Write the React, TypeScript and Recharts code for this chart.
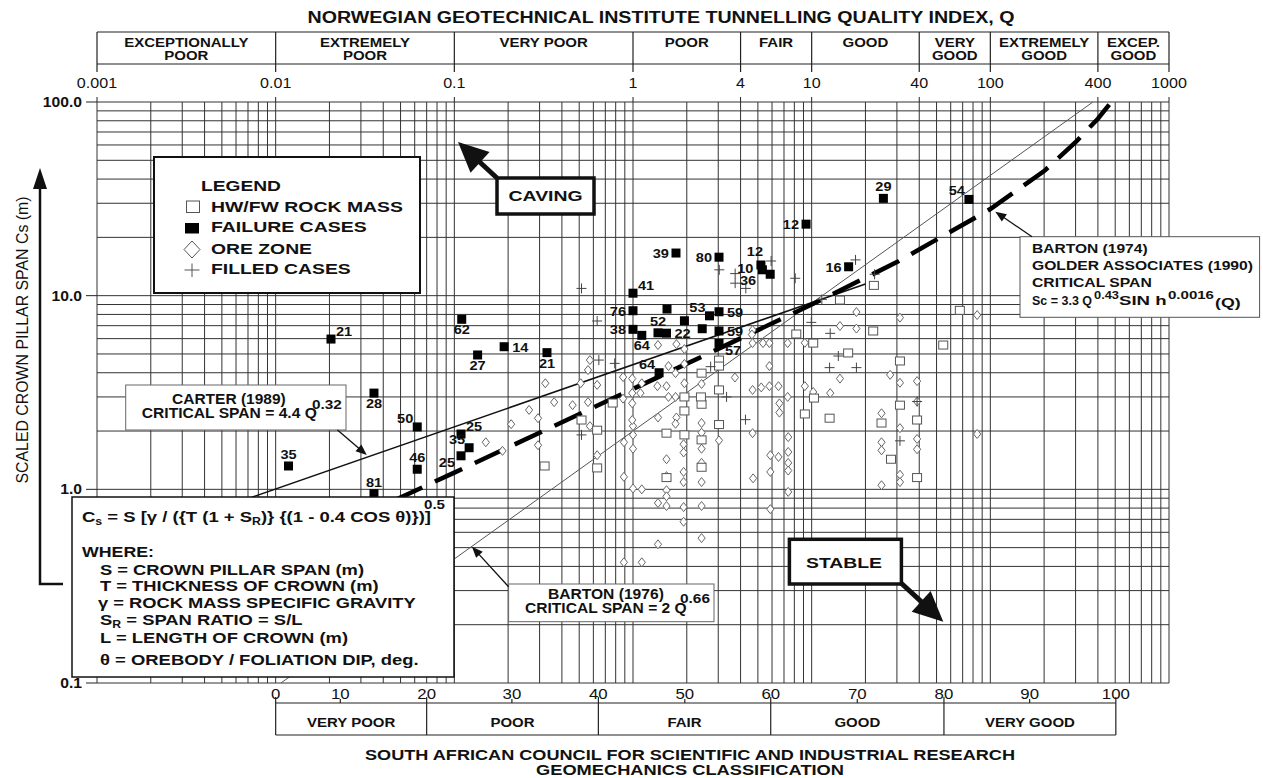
import React from "react";
import { ScatterChart, Scatter, XAxis, YAxis, ReferenceLine } from "recharts";

const FONT = "'Liberation Sans', Arial, Helvetica, sans-serif";
const W = 1263;
const H = 778;
const PLOT = { left: 97, right: 1169, top: 102, bottom: 683 };

// NGI Q axis (top)
const qTicks = [0.001, 0.01, 0.1, 1, 4, 10, 40, 100, 400, 1000];
const qClassNames = [
  ["EXCEPTIONALLY", "POOR"],
  ["EXTREMELY", "POOR"],
  ["VERY POOR"],
  ["POOR"],
  ["FAIR"],
  ["GOOD"],
  ["VERY", "GOOD"],
  ["EXTREMELY", "GOOD"],
  ["EXCEP.", "GOOD"],
];

// CSIR RMR axis (bottom), each RMR value sits at its equivalent Q
const rmrValues = [0, 10, 20, 30, 40, 50, 60, 70, 80, 90, 100];
const rmrAtQ = [0.01, 0.023, 0.07, 0.21, 0.64, 1.95, 5.9, 18, 55, 166, 504];
const rmrClassNames = ["VERY POOR", "POOR", "FAIR", "GOOD", "VERY GOOD"];

// scaled span axis
const csTicks = [0.1, 1, 10, 100];
const csTickLabels = ["0.1", "1.0", "10.0", "100.0"];

// grid
const gridMult = [1, 2, 3, 4, 5, 6, 7, 8, 9];
const qDecades = [0.001, 0.01, 0.1, 1, 10, 100];
const csDecades = [0.1, 1, 10];

// critical span lines
const carterQ = [0.001, 20];
const carterCs = [0.48, 11.5];
const barton76Q = [0.0107, 375];
const barton76Cs = [0.1, 100];
const barton74Q = [0.01, 0.03, 0.1, 0.3, 1, 3, 10, 30, 100, 200, 300, 400, 475];
const barton74Cs = [0.45, 0.73, 1.22, 1.96, 3.3, 5.31, 9.0, 14.9, 28, 44, 62, 82, 100];

// case histories [Q, Cs]
const hwfw: [number, number][] = [
  [0.32, 1.32], [0.515, 2.28], [0.63, 2.02], [0.63, 1.29], [0.77, 2.79], [1.54, 1.95], [1.54, 1.15],
  [1.94, 1.91], [1.94, 3.0], [1.94, 2.54], [2.42, 3.98], [2.42, 2.75], [2.4, 3.0], [2.42, 1.8], [2.42, 1.3],
  [3.03, 4.65], [3.03, 4.33], [3.03, 3.26], [3.03, 2.16], [8.2, 6.34], [10.2, 5.69], [9.16, 2.45],
  [10.3, 2.96], [12.6, 2.33], [14.4, 9.49], [22.3, 11.3], [22.1, 6.57], [16.0, 5.06], [31.2, 4.6],
  [31.2, 2.72], [24.6, 2.2], [38.9, 2.28], [27.8, 1.43], [38.9, 1.15], [54.5, 5.56], [67.5, 8.4],
];

const oreZone: [number, number][] = [
  [0.15, 1.75], [0.186, 1.58], [0.208, 2.17], [0.262, 2.57], [0.294, 2.33], [0.294, 1.69], [0.362, 2.82],
  [0.459, 2.72], [0.56, 2.82], [0.323, 3.53], [0.51, 3.53], [0.63, 3.46], [0.574, 2.12], [0.63, 1.5],
  [0.889, 1.16], [1.0, 1.01], [1.12, 1.0], [0.889, 0.42], [1.12, 0.42], [1.0, 2.12], [1.0, 1.91],
  [0.89, 1.75], [1.0, 1.62], [0.574, 4.65], [0.56, 4.13], [0.88, 3.8], [0.99, 3.73], [1.12, 3.53],
  [0.99, 3.14], [1.1, 3.14], [0.88, 2.94], [0.99, 2.78], [0.99, 2.28],
  [1.38, 5.56], [1.75, 5.62], [1.58, 4.33], [1.73, 3.98], [1.37, 3.41], [1.54, 3.41], [1.58, 3.0],
  [1.73, 3.0], [1.38, 2.35], [1.75, 2.35], [1.73, 2.18], [1.94, 5.3], [1.94, 4.44], [1.94, 3.53],
  [2.42, 3.5], [2.42, 2.2], [2.42, 1.96], [3.72, 3.78],
  [4.67, 6.64], [4.63, 6.3], [4.67, 5.69], [5.34, 5.69], [5.8, 5.69], [5.8, 4.33], [4.67, 3.26],
  [5.22, 3.36], [5.8, 3.41], [4.67, 1.95], [6.52, 3.41], [7.34, 5.69], [9.16, 5.71], [7.34, 3.0],
  [9.16, 3.41], [10.2, 3.18], [12.7, 3.14], [6.6, 2.78], [6.6, 2.49],
  [14.4, 3.73], [17.8, 6.76], [17.8, 8.23], [14.4, 6.97], [31.2, 7.7], [84.4, 7.94], [27.5, 3.9],
  [31.2, 3.55], [38.9, 3.62], [38.9, 2.84], [24.6, 2.47], [31.2, 2.07], [38.9, 1.82], [38.9, 1.61],
  [24.6, 1.75], [24.6, 1.59], [31.2, 1.19], [31.2, 1.09], [24.6, 1.05], [84.4, 1.93],
  [1.54, 1.43], [1.54, 1.17], [1.54, 0.99], [1.54, 0.92], [1.38, 0.85], [1.54, 0.82], [1.38, 0.52],
  [1.92, 1.71], [1.92, 1.55], [1.92, 1.23], [1.92, 1.09], [1.92, 0.81], [1.92, 0.68], [2.42, 1.62],
  [2.42, 1.37], [2.42, 1.09], [2.42, 0.82], [2.42, 0.56], [3.03, 1.79], [4.7, 1.14], [5.87, 1.5],
  [6.52, 1.47], [5.87, 1.23], [5.87, 0.79], [7.39, 1.86], [7.39, 1.56], [7.39, 1.37], [7.39, 1.25],
  [7.39, 0.97],
];

const filled: [number, number][] = [
  [0.515, 10.9], [0.63, 7.4], [0.644, 4.65], [0.79, 4.47], [0.515, 1.91], [3.04, 13.6], [3.73, 13.0],
  [3.73, 11.6], [4.28, 10.9], [5.93, 15.1], [8.09, 12.3], [17.6, 15.3], [22.5, 12.9], [11.4, 9.57],
  [9.95, 7.28], [12.7, 6.39], [14.1, 4.88], [12.6, 4.25], [17.8, 4.25], [31.2, 1.78], [38.9, 2.84],
  [2.72, 4.3], [3.34, 3.0], [4.26, 2.29],
];

const failureQ = [
  0.0204, 0.11, 0.135, 0.19, 0.33, 0.0355, 0.062, 0.0118, 0.062, 0.0355, 0.109, 0.121, 0.109,
  1.0, 1.0, 1.0, 1.12, 1.38, 1.54, 1.55, 1.94, 2.44, 2.68, 3.03, 3.03, 3.03, 1.4, 1.74, 3.03,
  5.2, 5.3, 5.86, 16.1, 9.3, 25.2, 75.9,
];
const failureCs = [
  5.97, 7.55, 4.94, 5.45, 5.08, 3.14, 2.1, 1.32, 1.27, 0.95, 1.93, 1.64, 1.49,
  10.3, 8.36, 6.7, 6.24, 6.43, 6.4, 8.53, 7.42, 6.75, 7.87, 8.26, 6.57, 5.67, 4.0, 16.6, 15.8,
  14.4, 13.6, 12.9, 14.1, 23.4, 31.8, 31.4,
];
const failureLabels = [
  "21", "62", "27", "14", "21", "28", "50", "35", "46", "81", "25", "35", "25",
  "41", "76", "38", "64", "52", "22", "", "", "", "53", "59", "59", "57", "64", "39", "80",
  "12", "10", "36", "16", "12", "29", "54",
];
// where each label sits around its square
const failureLabelSide = [
  "ur", "b", "b", "r", "b", "b", "ul", "a", "a", "a", "ur", "ul", "ll",
  "ur", "l", "l", "b", "a", "r", "", "", "", "ul", "r", "r", "lr", "ul", "l", "l",
  "au", "lu", "lb", "l", "l", "a", "ul",
];

const SIDE: Record<string, [number, number, string]> = {
  a: [0, -7, "middle"],
  au: [-6, -9, "middle"],
  b: [0, 15, "middle"],
  r: [8, 5, "start"],
  l: [-7, 5, "end"],
  lu: [-9, 3, "end"],
  ur: [5, -3, "start"],
  ul: [-4, -4, "end"],
  ll: [-6, 11, "end"],
  lb: [-14, 11, "end"],
  lr: [6, 12, "start"],
};

const gridQ = [...qDecades.flatMap((d) => gridMult.map((m) => +(d * m).toPrecision(3))), 1000];
const gridCs = [...csDecades.flatMap((d) => gridMult.map((m) => +(d * m).toPrecision(3))), 100];

const pts = (arr: [number, number][]) => arr.map(([q, cs]) => ({ q, cs }));
const linePts = (qs: number[], cs: number[]) => qs.map((q, i) => ({ q, cs: cs[i] }));
const failureData = failureQ.map((q, i) => ({ q, cs: failureCs[i], label: failureLabels[i], i }));

const xq = (q: number) => PLOT.left + ((Math.log10(q) + 3) / 6) * (PLOT.right - PLOT.left);

function T({ x, y, size = 14, bold = true, anchor = "start", len, sx = 1.15, fill = "#111", children }: any) {
  const common: any = { fontSize: size, fontWeight: bold ? 700 : 400, textAnchor: anchor, fill, fontFamily: FONT };
  if (len) {
    return (
      <text x={x} y={y} textLength={len} lengthAdjust="spacingAndGlyphs" {...common}>
        {children}
      </text>
    );
  }
  return (
    <text transform={`translate(${x},${y}) scale(${sx},1)`} {...common}>
      {children}
    </text>
  );
}

function Arrow({ x1, y1, x2, y2, w = 1.2, head = 10, hw = 4 }: any) {
  const dx = x2 - x1;
  const dy = y2 - y1;
  const L = Math.hypot(dx, dy);
  const ux = dx / L;
  const uy = dy / L;
  const bx = x2 - ux * head;
  const by = y2 - uy * head;
  const p = `${x2},${y2} ${bx - uy * hw},${by + ux * hw} ${bx + uy * hw},${by - ux * hw}`;
  return (
    <g>
      <line x1={x1} y1={y1} x2={bx + ux * 2} y2={by + uy * 2} stroke="#111" strokeWidth={w} />
      <polygon points={p} fill="#111" />
    </g>
  );
}

const noMark = () => <g />;

const OpenSquare = (p: any) => (
  <rect x={p.cx - 4.5} y={p.cy - 4} width={9} height={8} fill="#fff" stroke="#555" strokeWidth={1} />
);
const Diamond = (p: any) => (
  <path
    d={`M${p.cx},${p.cy - 4.5}L${p.cx + 3.6},${p.cy}L${p.cx},${p.cy + 4.5}L${p.cx - 3.6},${p.cy}Z`}
    fill="#fff"
    stroke="#666"
    strokeWidth={1}
  />
);
const Plus = (p: any) => (
  <path d={`M${p.cx - 5},${p.cy}H${p.cx + 5}M${p.cx},${p.cy - 5}V${p.cy + 5}`} stroke="#444" strokeWidth={1} />
);

function FailureMark(p: any) {
  const { cx, cy, payload } = p;
  if (cx == null || cy == null) return <g />;
  const s = SIDE[failureLabelSide[payload.i]];
  return (
    <g>
      <rect x={cx - 4.5} y={cy - 4.5} width={9} height={9} fill="#000" />
      {s && payload.label ? (
        <T x={cx + s[0]} y={cy + s[1]} size={13} anchor={s[2]} sx={1.12}>
          {payload.label}
        </T>
      ) : null}
    </g>
  );
}

const QTick = (p: any) => (
  <g>
    <line x1={p.x} x2={p.x} y1={97} y2={PLOT.top} stroke="#222" />
    <T x={p.x} y={88} size={14} bold={false} anchor="middle" sx={1.15}>
      {String(p.payload.value)}
    </T>
  </g>
);

const RmrTick = (p: any) => {
  const i = rmrAtQ.findIndex((v) => Math.abs(v - p.payload.value) < 1e-9);
  return (
    <T x={p.x} y={699} size={14} bold={false} anchor="middle" sx={1.2}>
      {i >= 0 ? String(rmrValues[i]) : ""}
    </T>
  );
};

const CsTick = (p: any) => {
  const i = csTicks.findIndex((v) => Math.abs(v - p.payload.value) < 1e-9);
  return (
    <g>
      <line x1={86} x2={PLOT.left} y1={p.y} y2={p.y} stroke="#222" />
      <T x={82} y={p.y + 5} size={14} anchor="end" sx={1.12}>
        {i >= 0 ? csTickLabels[i] : ""}
      </T>
    </g>
  );
};

function Overlay() {
  const rx = rmrAtQ.map(xq);
  const line = { stroke: "#222", strokeWidth: 1.2 };
  return (
    <svg width={W} height={H} style={{ position: "absolute", left: 0, top: 0, pointerEvents: "none" }}>
      {/* title and Q classes */}
      <T x={661} y={23} size={16} anchor="middle" len={707}>
        NORWEGIAN GEOTECHNICAL INSTITUTE TUNNELLING QUALITY INDEX, Q
      </T>
      <line x1={PLOT.left} x2={PLOT.right} y1={32} y2={32} {...line} />
      <line x1={PLOT.left} x2={PLOT.right} y1={64} y2={64} {...line} />
      {qTicks.map((q) => (
        <line key={"qd" + q} x1={xq(q)} x2={xq(q)} y1={32} y2={72} {...line} />
      ))}
      {qClassNames.map((rows, i) => {
        const cx = (xq(qTicks[i]) + xq(qTicks[i + 1])) / 2;
        return rows.map((s, j) => (
          <T key={"qc" + i + j} x={cx} y={47 + j * 12.5} size={12.5} anchor="middle" sx={1.2}>
            {s}
          </T>
        ));
      })}

      {/* RMR classes */}
      <line x1={rx[0]} x2={rx[10]} y1={703} y2={703} {...line} />
      <line x1={rx[0]} x2={rx[10]} y1={735} y2={735} {...line} />
      {rx.map((x, i) => (
        <line key={"rd" + i} x1={x} x2={x} y1={i % 2 === 0 ? 697 : 699} y2={i % 2 === 0 ? 735 : 703} {...line} />
      ))}
      {rmrClassNames.map((s, k) => (
        <T key={"rc" + k} x={(rx[2 * k] + rx[2 * k + 2]) / 2} y={727} size={12.5} anchor="middle" sx={1.2}>
          {s}
        </T>
      ))}
      <T x={690} y={760} size={15} anchor="middle" len={650}>
        SOUTH AFRICAN COUNCIL FOR SCIENTIFIC AND INDUSTRIAL RESEARCH
      </T>
      <T x={690} y={774.5} size={15} anchor="middle" len={308}>
        GEOMECHANICS CLASSIFICATION
      </T>

      {/* y axis title and arrow */}
      <text
        transform="translate(28,340) rotate(-90)"
        textAnchor="middle"
        fontSize={16}
        fontFamily={FONT}
        fill="#111"
        textLength={287}
        lengthAdjust="spacingAndGlyphs"
      >
        SCALED CROWN PILLAR SPAN Cs (m)
      </text>
      <polyline points="63,584 40,584 40,186" fill="none" stroke="#111" strokeWidth={2.5} />
      <polygon points="40,168 33,189 47,189" fill="#111" />

      {/* legend */}
      <rect x={154} y={157} width={266} height={136} fill="#fff" stroke="#111" strokeWidth={2} />
      <T x={201} y={190.5} size={15} len={80}>LEGEND</T>
      <rect x={186.5} y={201} width={13} height={11.5} fill="#fff" stroke="#555" strokeWidth={1} />
      <T x={211} y={211.5} size={15} len={192}>HW/FW ROCK MASS</T>
      <rect x={185} y={223} width={14} height={10.5} fill="#000" />
      <T x={211} y={232} size={15} len={155.6}>FAILURE CASES</T>
      <path d="M192,241 L200,249.5 L192,258 L184,249.5 Z" fill="#fff" stroke="#555" strokeWidth={1} />
      <T x={211} y={253.7} size={15} len={101}>ORE ZONE</T>
      <path d="M184.5,270 H199.5 M192,263.5 V277" stroke="#555" strokeWidth={1} />
      <T x={211} y={273.7} size={15} len={139.7}>FILLED CASES</T>

      {/* CAVING / STABLE */}
      <rect x={497} y={178} width={97} height={36} fill="#fff" stroke="#111" strokeWidth={3.5} />
      <T x={508.6} y={201} size={15} len={74}>CAVING</T>
      <Arrow x1={497} y1={178} x2={458} y2={142} w={5} head={30} hw={14} />
      <rect x={789.4} y={539.3} width={112} height={44.7} fill="#fff" stroke="#111" strokeWidth={3.5} />
      <T x={806} y={567.7} size={15} len={76}>STABLE</T>
      <Arrow x1={901} y1={583} x2={943.3} y2={621.7} w={5} head={30} hw={14} />

      {/* Carter */}
      <rect x={125.7} y={385} width={220.3} height={45} fill="#fff" stroke="#666" strokeWidth={1} />
      <T x={172} y={404.3} size={14} len={113.7}>CARTER (1989)</T>
      <T x={141.8} y={418.3} size={14} len={175}>CRITICAL SPAN = 4.4 Q</T>
      <T x={312} y={409} size={13} len={29.8}>0.32</T>
      <Arrow x1={337.5} y1={430} x2={366.8} y2={455} w={1.3} head={11} hw={4.5} />

      {/* Barton 1976 */}
      <rect x={508.6} y={584} width={205.4} height={37.7} fill="#fff" stroke="#666" strokeWidth={1} />
      <T x={547.9} y={599.3} size={14} len={116}>BARTON (1976)</T>
      <T x={525} y={613.3} size={14} len={161.7}>CRITICAL SPAN = 2 Q</T>
      <T x={680} y={602.5} size={13} len={30}>0.66</T>
      <Arrow x1={508.6} y1={586.7} x2={472} y2={546.7} w={1.3} head={11} hw={4.5} />

      {/* Barton 1974 / Golder */}
      <rect x={1020} y={236.7} width={239.6} height={80.6} fill="#fff" stroke="#555" strokeWidth={1} />
      <T x={1032} y={253.3} size={13.5} len={115.6}>BARTON (1974)</T>
      <T x={1032} y={270} size={13.5} len={221}>GOLDER ASSOCIATES (1990)</T>
      <T x={1032} y={286.7} size={13.5} len={119.8}>CRITICAL SPAN</T>
      <T x={1032} y={305} size={13.5} len={60}>Sc = 3.3 Q</T>
      <T x={1094} y={299} size={11} len={25}>0.43</T>
      <T x={1119} y={305} size={13.5} len={47.6}>SIN h</T>
      <T x={1168} y={299} size={11} len={46}>0.0016</T>
      <T x={1215} y={307} size={13.5} len={25.6}>(Q)</T>
      <Arrow x1={1032} y1={236.7} x2={995.3} y2={211.7} w={1.3} head={11} hw={4.5} />

      {/* scaled span definition */}
      <rect x={72} y={497} width={382} height={180} fill="#fff" stroke="#111" strokeWidth={1.5} />
      <T x={82} y={522} size={15} len={349}>
        C<tspan fontSize={10} dy={3}>s</tspan>
        <tspan dy={-3}>{" = S [γ / ({T (1 + S"}</tspan>
        <tspan fontSize={10} dy={3}>R</tspan>
        <tspan dy={-3}>{")} {(1 - 0.4 COS θ)})]"}</tspan>
      </T>
      <T x={424} y={508.5} size={12} len={21}>0.5</T>
      <T x={82} y={557} size={15} len={72}>WHERE:</T>
      <T x={100} y={574.7} size={15} len={264}>S = CROWN PILLAR SPAN (m)</T>
      <T x={100} y={590.7} size={15} len={278.6}>T = THICKNESS OF CROWN (m)</T>
      <T x={98} y={607.7} size={15} len={317.7}>γ = ROCK MASS SPECIFIC GRAVITY</T>
      <T x={100} y={624.7} size={15} len={202.5}>
        S<tspan fontSize={10} dy={3}>R</tspan>
        <tspan dy={-3}> = SPAN RATIO = S/L</tspan>
      </T>
      <T x={100} y={643.4} size={15} len={248}>L = LENGTH OF CROWN (m)</T>
      <T x={100} y={664.7} size={15} len={318.6}>θ = OREBODY / FOLIATION DIP, deg.</T>
    </svg>
  );
}

export default function App() {
  return (
    <div style={{ position: "absolute", left: 0, top: 0, width: W, height: H, background: "#fff", fontFamily: FONT }}>
      <ScatterChart width={W} height={H} margin={{ top: 82, right: 94, bottom: 75, left: 37 }}>
        <XAxis
          xAxisId="q"
          orientation="top"
          type="number"
          dataKey="q"
          scale="log"
          domain={[0.001, 1000]}
          allowDataOverflow
          ticks={qTicks}
          interval={0}
          height={20}
          tickLine={false}
          axisLine={false}
          tick={(p: any) => <QTick {...p} />}
        />
        <XAxis
          xAxisId="rmr"
          orientation="bottom"
          type="number"
          dataKey="q"
          scale="log"
          domain={[0.001, 1000]}
          allowDataOverflow
          ticks={rmrAtQ}
          interval={0}
          height={20}
          tickLine={false}
          axisLine={false}
          tick={(p: any) => <RmrTick {...p} />}
        />
        <YAxis
          type="number"
          dataKey="cs"
          scale="log"
          domain={[0.1, 100]}
          allowDataOverflow
          ticks={csTicks}
          interval={0}
          width={60}
          tickLine={false}
          axisLine={false}
          tick={(p: any) => <CsTick {...p} />}
        />
        {gridQ.map((v) => (
          <ReferenceLine key={"gx" + v} xAxisId="q" x={v} stroke="#333" strokeWidth={1} ifOverflow="visible" />
        ))}
        {gridCs.map((v) => (
          <ReferenceLine key={"gy" + v} xAxisId="q" y={v} stroke="#333" strokeWidth={1} ifOverflow="visible" />
        ))}
        <Scatter
          xAxisId="q"
          data={linePts(barton76Q, barton76Cs)}
          line={{ stroke: "#555", strokeWidth: 1 }}
          shape={noMark}
          isAnimationActive={false}
        />
        <Scatter
          xAxisId="q"
          data={linePts(carterQ, carterCs)}
          line={{ stroke: "#111", strokeWidth: 1.6 }}
          shape={noMark}
          isAnimationActive={false}
        />
        <Scatter
          xAxisId="q"
          data={linePts(barton74Q, barton74Cs)}
          line={{ stroke: "#000", strokeWidth: 4.5, strokeDasharray: "30 14" }}
          shape={noMark}
          isAnimationActive={false}
        />
        <Scatter xAxisId="q" data={pts(oreZone)} shape={Diamond} isAnimationActive={false} />
        <Scatter xAxisId="q" data={pts(hwfw)} shape={OpenSquare} isAnimationActive={false} />
        <Scatter xAxisId="q" data={pts(filled)} shape={Plus} isAnimationActive={false} />
        <Scatter xAxisId="q" data={failureData} shape={FailureMark} isAnimationActive={false} />
      </ScatterChart>
      <Overlay />
    </div>
  );
}
